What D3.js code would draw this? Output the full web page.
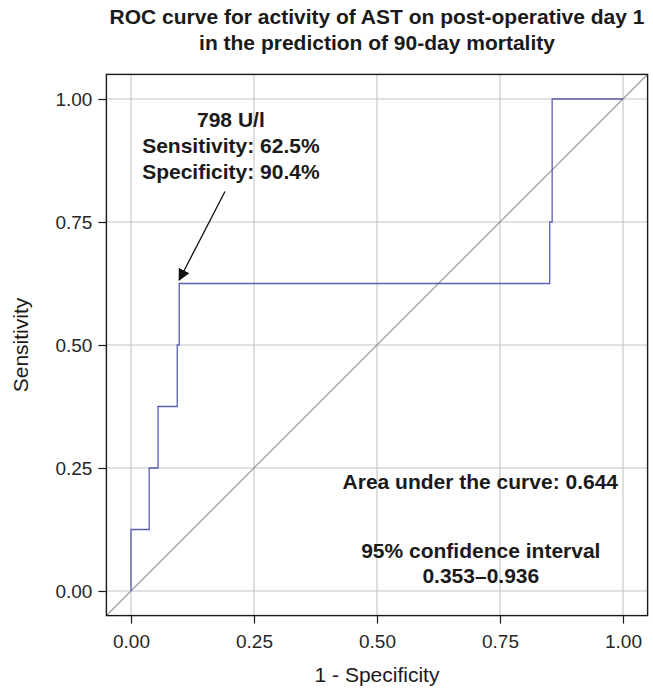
<!DOCTYPE html>
<html>
<head>
<meta charset="utf-8">
<script src="https://cdn.jsdelivr.net/npm/d3@7"></script>
<style>
  html, body { margin: 0; padding: 0; background: #fff; }
  text { font-family: "Liberation Sans", Arial, Helvetica, sans-serif; }
</style>
</head>
<body>
<svg id="chart" width="653" height="688"></svg>
<script>
// ---- data ----
const fpr = [0, 0, 0.037, 0.037, 0.055, 0.055, 0.094, 0.094, 0.098, 0.098, 0.851, 0.851, 0.856, 0.856, 1];
const tpr = [0, 0.125, 0.125, 0.25, 0.25, 0.375, 0.375, 0.5, 0.5, 0.625, 0.625, 0.75, 0.75, 1, 1];
const tickValues = [0, 0.25, 0.5, 0.75, 1];
const tickLabels = ["0.00", "0.25", "0.50", "0.75", "1.00"];
const titleLines = ["ROC curve for activity of AST on post-operative day 1", "in the prediction of 90-day mortality"];
const cutoffLines = ["798 U/l", "Sensitivity: 62.5%", "Specificity: 90.4%"];
const cutoffPos = [0.203, 0.905];
const arrowFrom = [0.191, 0.812];
const arrowTo = [0.098, 0.632];
const aucLine = ["Area under the curve: 0.644"];
const aucPos = [0.71, 0.222];
const ciLines = ["95% confidence interval", "0.353\u20130.936"];
const ciPos = [0.711, 0.058];
const xTitle = "1 - Specificity";
const yTitle = "Sensitivity";

// ---- layout ----
const svg = d3.select("#chart");
const pL = 106.4, pR = 647.6, pT = 74.4, pB = 615.6;
const x = d3.scaleLinear().domain([-0.05, 1.05]).range([pL, pR]);
const y = d3.scaleLinear().domain([-0.05, 1.05]).range([pB, pT]);
const cx = (pL + pR) / 2, cy = (pT + pB) / 2;

// grid
const grid = svg.append("g");
grid.selectAll("line.gx").data(tickValues).enter().append("line")
  .attr("x1", d => x(d)).attr("x2", d => x(d)).attr("y1", pT).attr("y2", pB)
  .attr("stroke", "#c4c4c4").attr("stroke-width", 1.1);
grid.selectAll("line.gy").data(tickValues).enter().append("line")
  .attr("y1", d => y(d)).attr("y2", d => y(d)).attr("x1", pL).attr("x2", pR)
  .attr("stroke", "#c4c4c4").attr("stroke-width", 1.1);

// clip
svg.append("clipPath").attr("id", "clip").append("rect")
  .attr("x", pL).attr("y", pT).attr("width", pR - pL).attr("height", pB - pT);

// diagonal reference line
svg.append("line").attr("clip-path", "url(#clip)")
  .attr("x1", x(-0.05)).attr("y1", y(-0.05)).attr("x2", x(1.05)).attr("y2", y(1.05))
  .attr("stroke", "#8c8c8c").attr("stroke-width", 1.1);

// ROC curve
const pts = fpr.map((f, i) => [f, tpr[i]]);
svg.append("path").datum(pts)
  .attr("d", d3.line().x(d => x(d[0])).y(d => y(d[1])))
  .attr("fill", "none").attr("stroke", "#5b5fb3").attr("stroke-width", 1.3);

// panel border
svg.append("rect").attr("x", pL).attr("y", pT).attr("width", pR - pL).attr("height", pB - pT)
  .attr("fill", "none").attr("stroke", "#1a1a1a").attr("stroke-width", 1.4);

// axes
const xAxis = d3.axisBottom(x).tickValues(tickValues).tickFormat((d, i) => tickLabels[i]).tickSize(8).tickPadding(6);
const yAxis = d3.axisLeft(y).tickValues(tickValues).tickFormat((d, i) => tickLabels[i]).tickSize(8).tickPadding(6);
const gx = svg.append("g").attr("transform", `translate(0,${pB})`).call(xAxis);
const gy = svg.append("g").attr("transform", `translate(${pL},0)`).call(yAxis);
[gx, gy].forEach(g => {
  g.select(".domain").remove();
  g.selectAll(".tick line").attr("stroke", "#1a1a1a").attr("stroke-width", 1.2);
  g.selectAll(".tick text").attr("fill", "#262626").style("font-size", "19px")
    .style("font-family", '"Liberation Sans", Arial, sans-serif');
});
gx.selectAll(".tick text").attr("dy", "0.95em");

// axis titles
svg.append("text").attr("x", cx).attr("y", 682).attr("text-anchor", "middle")
  .style("font-size", "21px").attr("fill", "#1a1a1a").text(xTitle);
svg.append("text").attr("transform", `translate(28,${cy}) rotate(-90)`).attr("text-anchor", "middle")
  .style("font-size", "21px").attr("fill", "#1a1a1a").text(yTitle);

// title
svg.append("g").selectAll("text").data(titleLines).enter().append("text")
  .attr("x", cx).attr("y", (d, i) => 24 + i * 25.5).attr("text-anchor", "middle")
  .style("font-size", "21px").style("font-weight", "bold").attr("fill", "#1a1a1a").text(d => d);

// annotation helper
function block(lines, pos, lh) {
  const n = lines.length;
  const yc = y(pos[1]);
  svg.append("g").selectAll("text").data(lines).enter().append("text")
    .attr("x", x(pos[0]))
    .attr("y", (d, i) => yc + (i - (n - 1) / 2) * lh)
    .attr("dy", "0.36em")
    .attr("text-anchor", "middle")
    .style("font-size", "21px").style("font-weight", "bold").attr("fill", "#1a1a1a")
    .text(d => d);
}
block(cutoffLines, cutoffPos, 26);
block(aucLine, aucPos, 25);
block(ciLines, ciPos, 25);

// arrow
const defs = svg.append("defs");
defs.append("marker").attr("id", "ah").attr("viewBox", "0 0 10 10").attr("refX", 9).attr("refY", 5)
  .attr("markerWidth", 12).attr("markerHeight", 12).attr("markerUnits", "userSpaceOnUse").attr("orient", "auto")
  .append("path").attr("d", "M0,0 L10,5 L0,10 Z").attr("fill", "#111");
svg.append("line")
  .attr("x1", x(arrowFrom[0])).attr("y1", y(arrowFrom[1]))
  .attr("x2", x(arrowTo[0])).attr("y2", y(arrowTo[1]))
  .attr("stroke", "#111").attr("stroke-width", 1.3).attr("marker-end", "url(#ah)");
</script>
</body>
</html>
